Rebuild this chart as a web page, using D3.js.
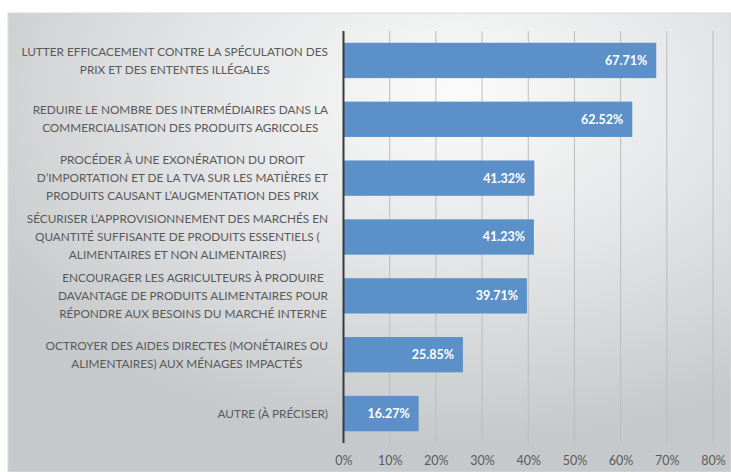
<!DOCTYPE html>
<html lang="fr">
<head>
  <meta charset="UTF-8">
  <title>Mesures</title>
  <script src="https://cdnjs.cloudflare.com/ajax/libs/d3/7.8.5/d3.min.js"></script>
  <style>
    body { margin: 0; background: #ffffff; }
    svg { display: block; }
  </style>
</head>
<body>
  <div id="chart"></div>
  <script>
    // categories (each one already split on its lines)
    let categories = [
      ["LUTTER EFFICACEMENT CONTRE LA SPÉCULATION DES", "PRIX ET DES ENTENTES ILLÉGALES"],
      ["REDUIRE LE NOMBRE DES INTERMÉDIAIRES DANS LA", "COMMERCIALISATION DES PRODUITS AGRICOLES"],
      ["PROCÉDER À UNE EXONÉRATION DU DROIT", "D’IMPORTATION ET DE LA TVA SUR LES MATIÈRES ET", "PRODUITS CAUSANT L’AUGMENTATION DES PRIX"],
      ["SÉCURISER L’APPROVISIONNEMENT DES MARCHÉS EN", "QUANTITÉ SUFFISANTE DE PRODUITS ESSENTIELS (", "ALIMENTAIRES ET NON ALIMENTAIRES)"],
      ["ENCOURAGER LES AGRICULTEURS À PRODUIRE", "DAVANTAGE DE PRODUITS ALIMENTAIRES POUR", "RÉPONDRE AUX BESOINS DU MARCHÉ INTERNE"],
      ["OCTROYER DES AIDES DIRECTES (MONÉTAIRES OU", "ALIMENTAIRES) AUX MÉNAGES IMPACTÉS"],
      ["AUTRE (À PRÉCISER)"]
    ];
    let values = [67.71, 62.52, 41.32, 41.23, 39.71, 25.85, 16.27];
    let tickValues = [0, 10, 20, 30, 40, 50, 60, 70, 80];

    let width = 731, height = 472;
    let margin = {top: 31, left: 343.5, right: 18, bottom: 29};

    let svg = d3.select('#chart')
      .append('svg')
      .attr('width', width)
      .attr('height', height);

    //background gradient like the office chart
    let defs = svg.append('defs');
    let grad = defs.append('radialGradient')
      .attr('id', 'bg')
      .attr('cx', '62%').attr('cy', '18%').attr('r', '75%');
    grad.append('stop').attr('offset', '0%').attr('stop-color', '#fbfbfb');
    grad.append('stop').attr('offset', '45%').attr('stop-color', '#e6e7e8');
    grad.append('stop').attr('offset', '100%').attr('stop-color', '#c6c9cb');

    svg.append('rect')
      .attr('x', 8).attr('y', 13)
      .attr('width', width - 8).attr('height', height - 13)
      .attr('fill', 'url(#bg)')
      .attr('stroke', '#d9d9d9');

    let x = d3.scaleLinear()
      .domain([0, 80])
      .range([margin.left, width - margin.right]);

    let y = d3.scaleBand()
      .domain(d3.range(categories.length))
      .range([margin.top, height - margin.bottom])
      .paddingInner(0.4)
      .paddingOuter(0.2);

    //gridlines
    svg.append('g')
      .selectAll('line')
      .data(tickValues.slice(1))
      .join('line')
      .attr('x1', d => x(d)).attr('x2', d => x(d))
      .attr('y1', margin.top).attr('y2', height - margin.bottom)
      .attr('stroke', '#bcbcbc')
      .attr('stroke-width', 1);

    //bars
    svg.append('g')
      .selectAll('rect')
      .data(values)
      .join('rect')
      .attr('x', x(0))
      .attr('y', (d, i) => y(i))
      .attr('width', d => x(d) - x(0))
      .attr('height', y.bandwidth())
      .attr('fill', '#5b90c8');

    //value labels
    svg.append('g')
      .selectAll('text')
      .data(values)
      .join('text')
      .attr('x', d => x(d) - 9)
      .attr('y', (d, i) => y(i) + y.bandwidth() / 2)
      .attr('dy', '0.35em')
      .attr('text-anchor', 'end')
      .attr('fill', '#ffffff')
      .attr('font-family', 'Lato, sans-serif')
      .attr('font-weight', 'bold')
      .attr('font-size', 12.5)
      .text(d => d.toFixed(2) + '%');

    //x axis
    let xAxis = svg.append('g')
      .attr('transform', `translate(0,${height - margin.bottom})`)
      .call(d3.axisBottom(x).tickValues(tickValues).tickFormat(d => d + '%').tickSize(0).tickPadding(13));
    xAxis.select('.domain').remove();
    xAxis.selectAll('text')
      .attr('fill', '#595959')
      .attr('font-family', 'Lato, sans-serif')
      .attr('font-size', 12.5);

    //vertical axis line at 0
    svg.append('line')
      .attr('x1', x(0)).attr('x2', x(0))
      .attr('y1', margin.top).attr('y2', height - margin.bottom)
      .attr('stroke', '#3a3a3a')
      .attr('stroke-width', 2);

    //category labels, lines centred inside a block right-aligned on the axis
    let lineH = 18;
    let labels = svg.append('g')
      .attr('font-family', 'Lato, sans-serif')
      .attr('font-size', 11.8)
      .attr('fill', '#595959');

    categories.forEach((lines, i) => {
      let g = labels.append('g');
      let cy = y(i) + y.bandwidth() / 2;
      let texts = g.selectAll('text')
        .data(lines)
        .join('text')
        .attr('y', (d, j) => cy + (j - (lines.length - 1) / 2) * lineH)
        .attr('dy', '0.35em')
        .attr('text-anchor', 'middle')
        .text(d => d);
      let maxW = d3.max(texts.nodes(), n => n.getComputedTextLength());
      texts.attr('x', 328 - maxW / 2);
    });
  </script>
</body>
</html>
